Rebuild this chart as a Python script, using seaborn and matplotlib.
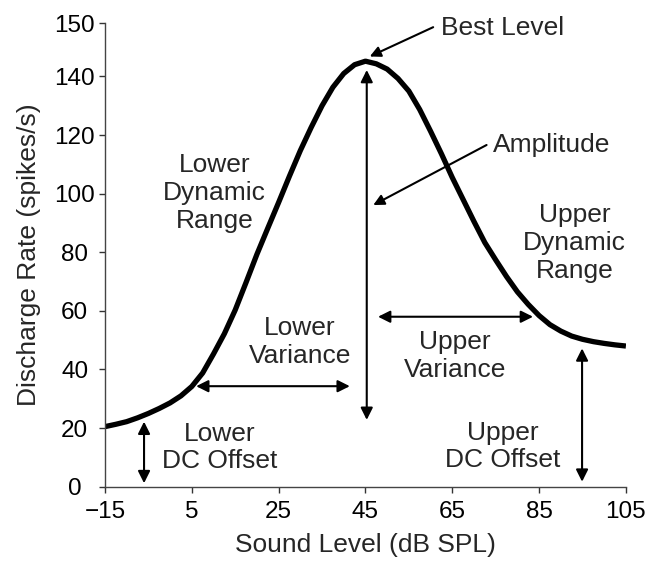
import numpy as np
import pandas as pd
import matplotlib
matplotlib.use("Agg")
import matplotlib.pyplot as plt
import seaborn as sns

# rate-level curve, values
sound_level = [-15, -12.5, -10, -7.5, -5, -2.5, 0, 2.5, 5, 7.5, 10, 12.5, 15, 17.5,
               20, 22.5, 25, 27.5, 30, 32.5, 35, 37.5, 40, 42.5, 45, 47.5, 50, 52.5,
               55, 57.5, 60, 62.5, 65, 67.5, 70, 72.5, 75, 77.5, 80, 82.5, 85, 87.5,
               90, 92.5, 95, 97.5, 100, 102.5, 105]
discharge_rate = [20.5, 21.3, 22.2, 23.5, 25.0, 26.7, 28.6, 31.0, 34.2, 38.8, 45.3, 52.2,
                  60.3, 69.7, 79.3, 88.2, 97.0, 106.0, 114.7, 122.6, 130.0, 136.3, 141.0,
                  144.0, 145.2, 144.3, 142.5, 139.3, 135.0, 128.7, 121.3, 113.6, 105.5,
                  98.0, 90.5, 83.3, 77.4, 71.7, 66.5, 62.2, 58.4, 55.3, 53.1, 51.4, 50.3,
                  49.5, 48.9, 48.4, 48.0]

x_ticks = [-15, 5, 25, 45, 65, 85, 105]
x_tick_labels = ["\u221215", "5", "25", "45", "65", "85", "105"]
# the top tick in the original sits above where 150 would fall
y_ticks = [0, 20, 40, 60, 80, 100, 120, 140, 158.2]
y_tick_labels = ["0", "20", "40", "60", "80", "100", "120", "140", "150"]

# double-headed arrows: (x0, y0, x1, y1)
amplitude_arrow = (45.3, 22.8, 45.3, 142.2)
lower_var_arrow = (6.0, 34.3, 41.4, 34.3)
upper_var_arrow = (47.9, 58.0, 83.6, 58.0)
lower_dc_arrow = (-6.0, 1.2, -6.0, 22.2)
upper_dc_arrow = (94.9, 1.7, 94.9, 47.2)

# single-headed pointers: (x0, y0, x1, y1)
best_level_pointer = (60.6, 156.8, 46.0, 146.8)
amplitude_pointer = (72.9, 116.6, 46.8, 96.1)

# labels: (text, x, y, ha)
block_labels = [
    ("Best Level", 62.4, 156.4, "left"),
    ("Amplitude", 74.3, 116.6, "left"),
    ("Lower\nDynamic\nRange", 10.3, 100.2, "center"),
    ("Upper\nDynamic\nRange", 93.2, 83.1, "center"),
    ("Lower\nVariance", 29.9, 49.4, "center"),
    ("Upper\nVariance", 65.6, 44.6, "center"),
    ("Lower\nDC Offset", 11.5, 13.4, "center"),
    ("Upper\nDC Offset", 76.7, 13.7, "center"),
]

sns.set_theme(style="ticks")
plt.rcParams["font.family"] = ["Liberation Sans", "DejaVu Sans"]

df = pd.DataFrame({"level": sound_level, "rate": discharge_rate})

fig = plt.figure(figsize=(6.52, 5.63), dpi=100)
ax = fig.add_axes([0.161, 0.1355, 0.799, 0.8235])

sns.lineplot(data=df, x="level", y="rate", color="black", linewidth=3.8, ax=ax)
ax.lines[0].set_solid_joinstyle("round")
ax.lines[0].set_solid_capstyle("butt")

ax.set_xlim(-15, 105)
ax.set_ylim(0, 158.2)
ax.set_xticks(x_ticks)
ax.set_xticklabels(x_tick_labels)
ax.set_yticks(y_ticks)
ax.set_yticklabels(y_tick_labels)
ax.tick_params(labelsize=17.5, colors="#333333", labelcolor="black", length=4.3, width=1, direction="out")
ax.tick_params(axis="x", pad=6)
ax.tick_params(axis="y", pad=17.5)
for lab in ax.get_yticklabels():
    lab.set_horizontalalignment("center")

ax.set_xlabel("Sound Level (dB SPL)", fontsize=19, va="center")
ax.set_ylabel("Discharge Rate (spikes/s)", fontsize=19, va="center")
ax.xaxis.set_label_coords(0.5, -0.125)
ax.yaxis.set_label_coords(-0.146, 0.5)
for side in ["top", "right"]:
    ax.spines[side].set_visible(False)
for side in ["left", "bottom"]:
    ax.spines[side].set_color("#444444")
    ax.spines[side].set_linewidth(1.0)

arrow_kw = dict(arrowstyle="<|-|>", color="black", lw=1.5, mutation_scale=18, shrinkA=0, shrinkB=0)
for x0, y0, x1, y1 in [amplitude_arrow, lower_var_arrow, upper_var_arrow, lower_dc_arrow, upper_dc_arrow]:
    ax.annotate("", xy=(x1, y1), xytext=(x0, y0), arrowprops=arrow_kw)

pointer_kw = dict(arrowstyle="-|>", color="black", lw=1.5, mutation_scale=16, shrinkA=0, shrinkB=0)
for x0, y0, x1, y1 in [best_level_pointer, amplitude_pointer]:
    ax.annotate("", xy=(x1, y1), xytext=(x0, y0), arrowprops=pointer_kw, annotation_clip=False)

for text, x, y, ha in block_labels:
    ax.text(x, y, text, fontsize=19, ha=ha, va="center", linespacing=1.2, clip_on=False)

fig.savefig("out.png", dpi=100)
